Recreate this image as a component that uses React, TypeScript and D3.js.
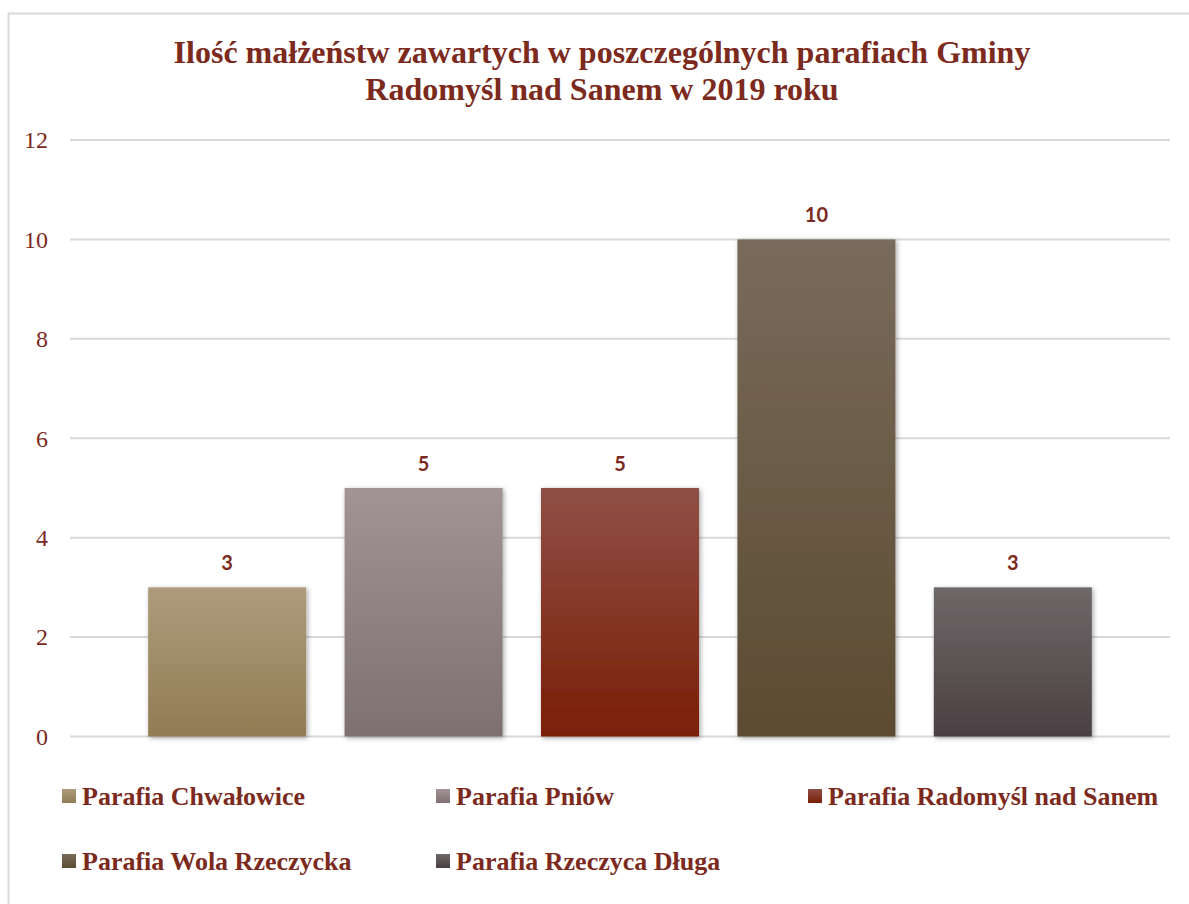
import React from "react";
import * as d3 from "d3";

const series = [
  "Parafia Chwałowice",
  "Parafia Pniów",
  "Parafia Radomyśl nad Sanem",
  "Parafia Wola Rzeczycka",
  "Parafia Rzeczyca Długa",
];
const values = [3, 5, 5, 10, 3];
const yTicks = [0, 2, 4, 6, 8, 10, 12];
const topColors = ["#ad9b7b", "#a29494", "#8f4f46", "#786b5b", "#6e6868"];
const bottomColors = ["#917c54", "#7e7070", "#7a1f06", "#5b4b31", "#4b4042"];
const titleLines = [
  "Ilość małżeństw zawartych w poszczególnych parafiach Gminy",
  "Radomyśl nad Sanem w 2019 roku",
];

const W = 1189;
const H = 904;
const TEXT = "#7b2a1d";

export default function App() {
  const x = d3
    .scaleBand<string>()
    .domain(series)
    .range([70, 1170])
    .paddingInner(0.1955)
    .paddingOuter(0.398);
  const y = d3.scaleLinear().domain([0, 12]).range([736.5, 140]);

  const legendPos = [
    [62, 796],
    [436, 796],
    [808, 796],
    [62, 861],
    [436, 861],
  ];

  return (
    <svg
      width={W}
      height={H}
      style={{ position: "fixed", left: 0, top: 0, display: "block", background: "#fff" }}
    >
      <defs>
        {series.map((s, i) => (
          <linearGradient key={s} id={`g${i}`} x1="0" y1="0" x2="0" y2="1">
            <stop offset="0%" stopColor={topColors[i]} />
            <stop offset="100%" stopColor={bottomColors[i]} />
          </linearGradient>
        ))}
        <filter id="sh" x="-10%" y="-10%" width="120%" height="120%">
          <feDropShadow dx="1.5" dy="1.5" stdDeviation="2.5" floodColor="#000" floodOpacity="0.35" />
        </filter>
      </defs>
      <rect x={8.5} y={13.5} width={1200} height={920} fill="#fff" stroke="#d9d9d9" strokeWidth={2} />
      {titleLines.map((t, i) => (
        <text
          key={i}
          x={602}
          y={63 + i * 37}
          textAnchor="middle"
          fontFamily="'Liberation Serif', 'Times New Roman', serif"
          fontWeight="bold"
          fontSize={32}
          fill={TEXT}
        >
          {t}
        </text>
      ))}
      {yTicks.map((t) => (
        <g key={t}>
          <line x1={70} x2={1170} y1={y(t)} y2={y(t)} stroke="#d9d9d9" strokeWidth={2} />
          <text
            x={48}
            y={y(t)}
            dy="0.35em"
            textAnchor="end"
            fontFamily="'Liberation Serif', 'Times New Roman', serif"
            fontSize={24}
            fill={TEXT}
          >
            {t}
          </text>
        </g>
      ))}
      {series.map((s, i) => (
        <g key={s}>
          <rect
            x={x(s)}
            y={y(values[i])}
            width={x.bandwidth()}
            height={y(0) - y(values[i])}
            fill={`url(#g${i})`}
            filter="url(#sh)"
          />
          <text
            x={(x(s) as number) + x.bandwidth() / 2}
            y={y(values[i]) - 17}
            textAnchor="middle"
            fontFamily="Lato, 'Open Sans', sans-serif"
            fontWeight="bold"
            fontSize={20}
            fill={TEXT}
          >
            {values[i]}
          </text>
        </g>
      ))}
      {series.map((s, i) => (
        <g key={s} transform={`translate(${legendPos[i][0]},${legendPos[i][1]})`}>
          <rect x={0} y={-7} width={14} height={14} fill={`url(#g${i})`} />
          <text
            x={20}
            y={0}
            dy="0.35em"
            fontFamily="'Liberation Serif', 'Times New Roman', serif"
            fontWeight="bold"
            fontSize={26}
            fill={TEXT}
          >
            {s}
          </text>
        </g>
      ))}
    </svg>
  );
}
